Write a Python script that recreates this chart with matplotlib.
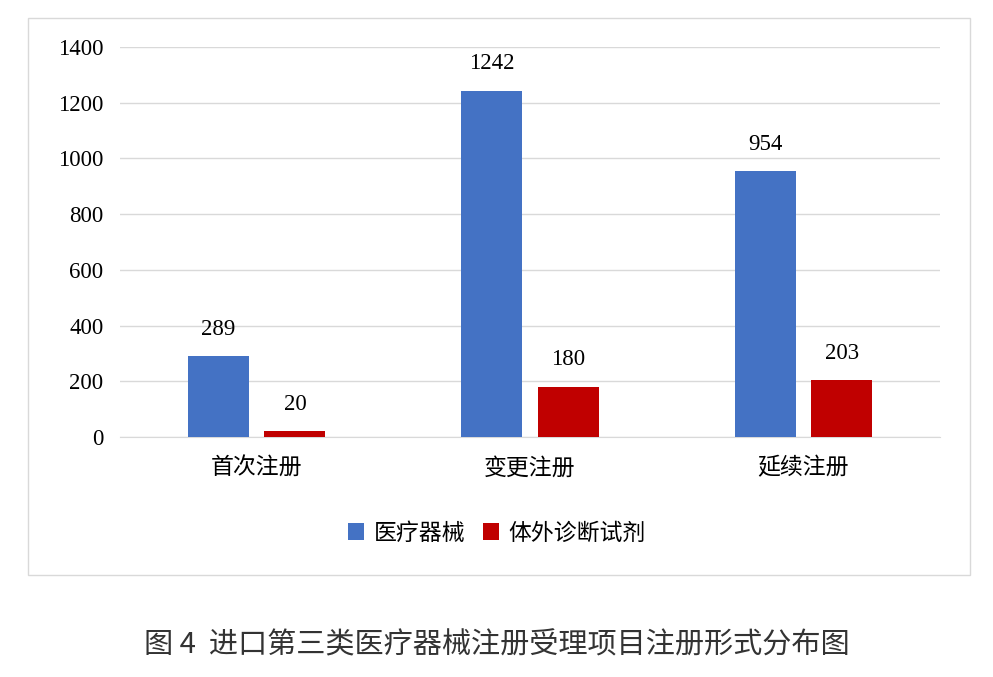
import matplotlib
matplotlib.use("Agg")
import matplotlib.pyplot as plt
import numpy as np
from matplotlib.patches import Rectangle

categories = ["首次注册", "变更注册", "延续注册"]
series_names = ["医疗器械", "体外诊断试剂"]
device = [289, 1242, 954]
ivd = [20, 180, 203]
yticks = [0, 200, 400, 600, 800, 1000, 1200, 1400]

cjk = ["Noto Sans CJK SC", "DejaVu Sans"]
serif = ["Liberation Serif", "DejaVu Serif"]

fig = plt.figure(figsize=(9.93, 6.77), dpi=100)
fig.patches.append(Rectangle((28/993, 1-575/677), (970-28)/993, (575-18)/677,
                             transform=fig.transFigure, fill=False, edgecolor="#d9d9d9", lw=1))
ax = fig.add_axes([120/993, 1-437/677, 820/993, 390/677])
x = np.arange(len(categories))
w = 0.223; off = 0.14
b1 = ax.bar(x - off, device, w, color="#4472c4", label=series_names[0], zorder=3)
b2 = ax.bar(x + off, ivd, w, color="#c00000", label=series_names[1], zorder=3)
for bars in (b1, b2):
    for r in bars:
        ax.text(r.get_x()+r.get_width()/2, r.get_height()+60, str(int(r.get_height())),
                ha="center", va="bottom", fontsize=16.5, family=serif)
ax.set_xlim(-0.5, 2.5)
ax.set_ylim(0, 1400)
ax.set_yticks(yticks)
ax.set_yticklabels([str(t) for t in yticks], family=serif, fontsize=16.5)
ax.set_xticks(x)
ax.set_xticklabels(categories, family=cjk, fontsize=16.5)
ax.grid(axis="y", color="#d9d9d9", lw=1, zorder=0)
for s in ["top", "right", "left"]:
    ax.spines[s].set_visible(False)
ax.spines["bottom"].set_color("#d9d9d9")
ax.tick_params(length=0, pad=12)
ax.tick_params(axis="x", pad=14)
fig.legend(handles=[b1, b2], loc="center", bbox_to_anchor=(497/993, 1-533/677), ncol=2,
           frameon=False, prop={"family": cjk, "size": 16.5}, handlelength=0.7,
           handleheight=0.7, columnspacing=0.8, handletextpad=0.4)
fig.text(497/993, 1-645/677, "图 4  进口第三类医疗器械注册受理项目注册形式分布图",
         ha="center", va="center", fontsize=21, family=cjk, color="#333333")
fig.savefig("out.png", dpi=100)
